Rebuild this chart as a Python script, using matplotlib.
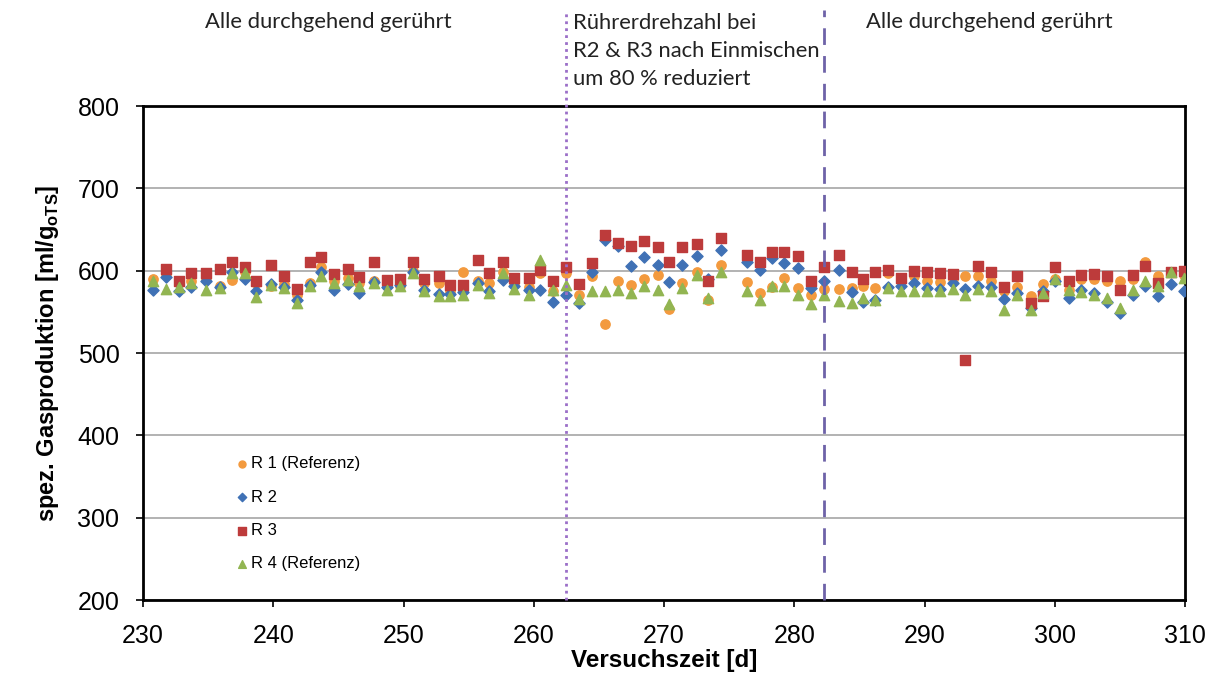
import numpy as np
import matplotlib
matplotlib.use('Agg')
import matplotlib.pyplot as plt

# values (day, specific gas production per reactor)
days = [230.8, 231.8, 232.8, 233.7, 234.8, 235.9, 236.8, 237.8, 238.7, 239.8,
        240.8, 241.8, 242.8, 243.7, 244.7, 245.7, 246.6, 247.7, 248.7, 249.7,
        250.7, 251.6, 252.7, 253.6, 254.6, 255.7, 256.6, 257.6, 258.5, 259.6,
        260.5, 261.5, 262.5, 263.5, 264.5, 265.5, 266.5, 267.5, 268.5, 269.5,
        270.4, 271.4, 272.5, 273.4, 274.4, 276.4, 277.4, 278.3, 279.2, 280.3,
        281.3, 282.3, 283.4, 284.4, 285.3, 286.2, 287.2, 288.2, 289.2, 290.2,
        291.2, 292.2, 293.1, 294.1, 295.1, 296.1, 297.1, 298.2, 299.1, 300.0,
        301.1, 302.0, 303.0, 304.0, 305.0, 306.0, 306.9, 307.9, 308.9, 309.9]

r1 = [590, 596, 585, 588, 590, 582, 589, 598, 585, 582,
      584, 570, 585, 605, 587, 591, 585, 587, 582, 581,
      600, 585, 585, 575, 598, 588, 585, 599, 585, 580,
      597, 575, 597, 570, 593, 535, 587, 583, 590, 595,
      554, 585, 599, 565, 607, 586, 573, 580, 591, 579,
      571, 578, 578, 579, 581, 579, 597, 587, 593, 587,
      586, 590, 594, 594, 587, 575, 580, 569, 584, 590,
      577, 590, 590, 588, 587, 590, 611, 593, 599, 595]

r2 = [576, 592, 575, 580, 587, 580, 598, 590, 575, 584,
      580, 565, 583, 598, 577, 584, 573, 586, 580, 583,
      598, 577, 572, 572, 574, 585, 575, 589, 582, 577,
      577, 562, 571, 561, 599, 637, 630, 606, 617, 607,
      586, 607, 618, 590, 625, 610, 601, 615, 609, 603,
      579, 587, 601, 574, 562, 565, 580, 581, 585, 579,
      578, 585, 578, 582, 580, 566, 573, 555, 575, 588,
      567, 576, 573, 562, 549, 570, 581, 569, 584, 575]

r3 = [np.nan, 602, 588, 597, 597, 602, 610, 605, 588, 607,
      593, 578, 610, 617, 596, 602, 592, 610, 589, 590,
      611, 590, 594, 583, 583, 613, 597, 610, 591, 591,
      601, 588, 604, 584, 609, 643, 634, 630, 636, 629,
      610, 629, 632, 588, 640, 619, 611, 623, 623, 618,
      588, 605, 619, 598, 590, 599, 601, 591, 600, 598,
      597, 596, 491, 606, 598, 580, 593, 561, 569, 605,
      587, 595, 596, 593, 577, 595, 606, 585, 599, 600]

r4 = [588, 578, 580, 585, 576, 579, 597, 597, 568, 583,
      579, 561, 581, 593, 585, 589, 582, 585, 577, 581,
      597, 575, 569, 569, 571, 583, 573, 597, 578, 570,
      613, 577, 583, 566, 575, 575, 577, 573, 581, 577,
      560, 579, 595, 567, 599, 575, 565, 581, 581, 571,
      560, 571, 563, 561, 567, 565, 579, 575, 575, 575,
      575, 578, 570, 578, 575, 552, 571, 552, 573, 590,
      577, 574, 571, 567, 555, 577, 587, 582, 599, 591]

# phase boundaries (days)
phase_start = 262.46
phase_end = 282.3

plt.rcParams['font.family'] = ['Liberation Sans', 'DejaVu Sans']
plt.rcParams['mathtext.fontset'] = 'custom'
plt.rcParams['mathtext.rm'] = 'Liberation Sans'
plt.rcParams['mathtext.bf'] = 'Liberation Sans:bold'

fig = plt.figure(figsize=(12.08, 6.81), dpi=100)
ax = fig.add_axes([0.1184, 0.1189, 0.8626, 0.7254])

# horizontal grid lines behind the points
ax.set_axisbelow(True)
ax.grid(axis='y', color='#a6a6a6', linewidth=1.2)

ax.scatter(days, r1, marker='o', s=45, color='#f39a3e', label='R 1 (Referenz)', zorder=3)
ax.scatter(days, r2, marker='D', s=32, color='#3f71b5', label='R 2', zorder=3)
ax.scatter(days, r3, marker='s', s=62, color='#bd3b3b', label='R 3', zorder=3)
ax.scatter(days, r4, marker='^', s=55, color='#92b552', label='R 4 (Referenz)', zorder=3)

# phase markers, they run up into the annotation area above the plot
ax.axvline(phase_start, ymin=0, ymax=1.195, color='#9b6fc8', linestyle=(0, (1, 1.5)),
           linewidth=2, clip_on=False, zorder=4)
ax.axvline(phase_end, ymin=0, ymax=1.195, color='#6e62a8', linestyle=(0, (6, 4)),
           linewidth=2, clip_on=False, zorder=4)

ax.set_xlim(230, 310)
ax.set_ylim(200, 800)
ax.set_xticks(range(230, 311, 10))
ax.set_yticks(range(200, 801, 100))
ax.tick_params(labelsize=18, direction='out', length=5, width=1.2)
ax.tick_params(axis='x', pad=12)
ax.tick_params(axis='y', pad=12)
for spine in ax.spines.values():
    spine.set_linewidth(2)
    spine.set_color('black')

ax.set_xlabel('Versuchszeit [d]', fontsize=17.5, fontweight='bold', labelpad=1)
ax.set_ylabel(r'spez. Gasproduktion [ml/g$_{\mathbf{oTS}}$]', fontsize=17,
              fontweight='bold', labelpad=12)

leg = ax.legend(loc='upper left', bbox_to_anchor=(0.08, 0.308), frameon=False,
                fontsize=12, labelspacing=1.1, handletextpad=0.1,
                handlelength=0.9, markerscale=0.75, borderpad=0)

# phase annotations above the chart
note_font = dict(family=['Lato', 'DejaVu Sans'], fontsize=15.8, color='#222222')
fig.text(205 / 1208, 1 - 22 / 681, 'Alle durchgehend gerührt', va='center', **note_font)
fig.text(573 / 1208, 1 - 51 / 681,
         'Rührerdrehzahl bei\nR2 & R3 nach Einmischen\num 80 % reduziert',
         va='center', linespacing=1.5, **note_font)
fig.text(866 / 1208, 1 - 22 / 681, 'Alle durchgehend gerührt', va='center', **note_font)

plt.savefig('out.png', dpi=100)
